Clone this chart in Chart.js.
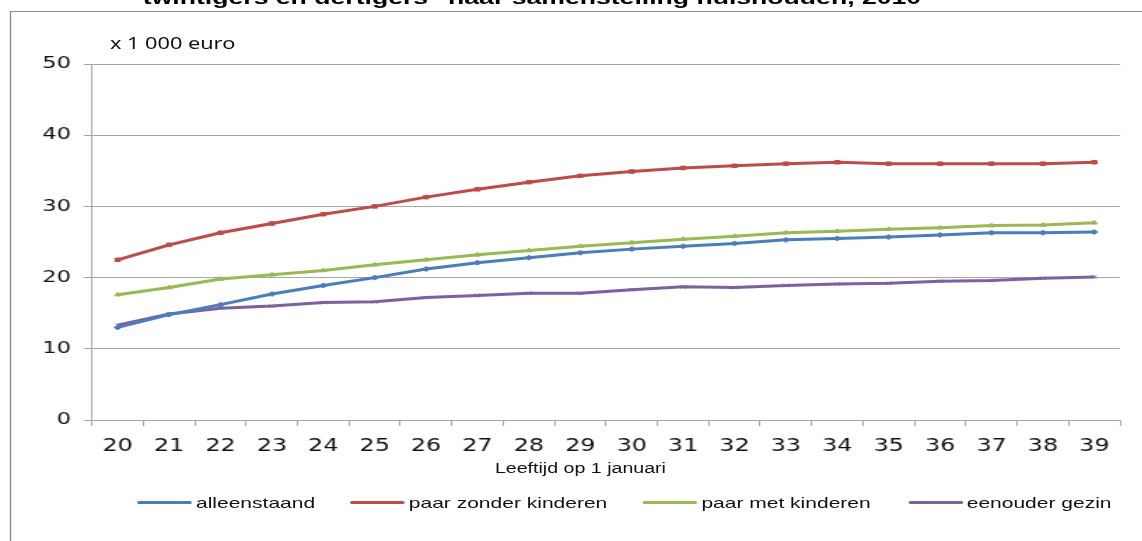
<!DOCTYPE html>
<html>
<head>
<meta charset="utf-8">
<script src="https://cdn.jsdelivr.net/npm/chart.js@4/dist/chart.umd.min.js"></script>
<style>
  html, body { margin: 0; padding: 0; background: #fff; overflow: hidden; }
  /* the source picture is horizontally stretched, so draw at 816px and stretch by 1.4 */
  #wrap { position: absolute; left: 0; top: 0; width: 816px; height: 541px; transform: scaleX(1.4); transform-origin: 0 0; }
  #frame { position: absolute; left: 6.5px; top: 11px; width: 900px; height: 600px; border: 1px solid #8c8c8c; }
  #title { position: absolute; left: 102px; top: -13px; font: bold 19px "Liberation Sans", Arial, sans-serif; color: #000; white-space: nowrap; }
  #unit { position: absolute; left: 78.5px; top: 32px; font: 15.5px "Noto Sans", sans-serif; color: #111; }
  #xtitle { position: absolute; left: 353.5px; top: 460px; font: 14px "Liberation Sans", Arial, sans-serif; color: #111; white-space: nowrap; }
  #legend { position: absolute; left: 0; top: 492px; width: 816px; height: 20px; font: 15px "Liberation Sans", Arial, sans-serif; color: #111; }
  .leg { position: absolute; top: 0; height: 20px; display: flex; align-items: center; white-space: nowrap; }
  .leg-line { display: inline-block; width: 39px; height: 3px; margin-right: 3px; border-radius: 1.5px; }
  canvas { position: absolute; left: 0; top: 0; }
</style>
</head>
<body>
<div id="wrap">
  <div id="frame"></div>
  <div id="title">twintigers en dertigers" naar samenstelling huishouden, 2010</div>
  <div id="unit">x 1 000 euro</div>
  <canvas id="chart" width="816" height="541"></canvas>
  <div id="xtitle">Leeftijd op 1 januari</div>
  <div id="legend"></div>
</div>
<script>
const AGES = ['20', '21', '22', '23', '24', '25', '26', '27', '28', '29',
              '30', '31', '32', '33', '34', '35', '36', '37', '38', '39'];
const Y_TICKS = [0, 10, 20, 30, 40, 50];

const ALLEENSTAAND = [13.0, 14.8, 16.2, 17.7, 18.9, 20.0, 21.2, 22.1, 22.8, 23.5,
                      24.0, 24.4, 24.8, 25.3, 25.5, 25.7, 26.0, 26.3, 26.3, 26.4];
const PAAR_ZONDER = [22.5, 24.6, 26.3, 27.6, 28.9, 30.0, 31.3, 32.4, 33.4, 34.3,
                     34.9, 35.4, 35.7, 36.0, 36.2, 36.0, 36.0, 36.0, 36.0, 36.2];
const PAAR_MET = [17.6, 18.6, 19.8, 20.4, 21.0, 21.8, 22.5, 23.2, 23.8, 24.4,
                  24.9, 25.4, 25.8, 26.3, 26.5, 26.8, 27.0, 27.3, 27.4, 27.7];
const EENOUDER = [13.3, 14.9, 15.7, 16.0, 16.5, 16.6, 17.2, 17.5, 17.8, 17.8,
                  18.3, 18.7, 18.6, 18.9, 19.1, 19.2, 19.5, 19.6, 19.9, 20.1];

const SERIES = [
  { label: 'alleenstaand', data: ALLEENSTAAND, color: '#4A7EBB', point: 'rectRot' },
  { label: 'paar zonder kinderen', data: PAAR_ZONDER, color: '#BE4B48', point: 'rect' },
  { label: 'paar met kinderen', data: PAAR_MET, color: '#98B954', point: 'triangle' },
  { label: 'eenouder gezin', data: EENOUDER, color: '#7D60A0', point: 'crossRot' },
];

const LEGEND_X = [98, 250, 459, 648.5];

function renderLegend() {
  const legend = document.getElementById('legend');
  SERIES.forEach((s, i) => {
    const item = document.createElement('div');
    item.className = 'leg';
    item.style.left = `${LEGEND_X[i]}px`;
    item.innerHTML = `<span class="leg-line" style="background:${s.color}"></span>${s.label}`;
    legend.appendChild(item);
  });
}

const gridGray = '#a6a6a6';

new Chart(document.getElementById('chart'), {
  type: 'line',
  data: {
    labels: AGES,
    datasets: SERIES.map(s => ({
      label: s.label,
      data: s.data,
      borderColor: s.color,
      backgroundColor: s.color,
      borderWidth: 3,
      pointStyle: s.point,
      pointRadius: 2.5,
      pointBorderWidth: 1,
      tension: 0,
    })),
  },
  options: {
    responsive: false,
    animation: false,
    layout: { padding: { left: 0, right: 16, top: 64, bottom: 0 } },
    plugins: { legend: { display: false }, tooltip: { enabled: false } },
    scales: {
      x: {
        offset: true,
        grid: { drawOnChartArea: false, drawTicks: true, tickLength: 6, color: gridGray, offset: true },
        border: { color: gridGray, width: 1 },
        ticks: { color: '#111', font: { family: 'DejaVu Sans', size: 17 }, padding: 10, maxRotation: 0 },
        afterFit: (s) => { s.height = 121; },
      },
      y: {
        min: 0,
        max: 50,
        afterBuildTicks: (s) => { s.ticks = Y_TICKS.map(v => ({ value: v })); },
        grid: { color: gridGray, tickLength: 6 },
        border: { color: gridGray, width: 1 },
        ticks: { color: '#111', font: { family: 'DejaVu Sans', size: 16 }, padding: 9 },
        afterFit: (s) => { s.width = 65.7; },
      },
    },
  },
});

renderLegend();
</script>
</body>
</html>
